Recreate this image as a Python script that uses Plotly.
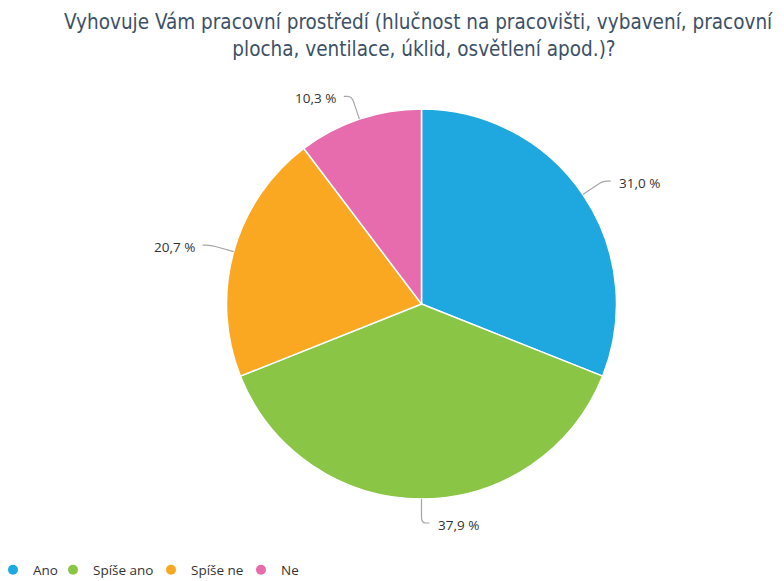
import math
import plotly.graph_objects as go

title_lines = ["Vyhovuje Vám pracovní prostředí (hlučnost na pracovišti, vybavení, pracovní",
               "plocha, ventilace, úklid, osvětlení apod.)?"]
categories = ["Ano", "Spíše ano", "Spíše ne", "Ne"]
values = [31.0, 37.9, 20.7, 10.3]
colors = ["#1fa8e0", "#8bc546", "#faa822", "#e66cad"]

W, H = 784, 581
CX, CY, R = 421.5, 304.0, 195.0

def px(x):
    return x / W

def py(y):
    return 1 - y / H

fig = go.Figure()
fig.add_trace(go.Pie(
    labels=categories, values=values, sort=False, direction="clockwise", rotation=0,
    marker=dict(colors=colors, line=dict(color="white", width=1.5)),
    textinfo="none", showlegend=False,
    domain=dict(x=[px(CX - R), px(CX + R)], y=[py(CY + R), py(CY - R)]),
    hovertemplate="%{label}: %{value:.1f} %<extra></extra>",
))

# legend entries with round markers, one small legend per entry for compact spacing
legend_x_px = [-7, 53, 151, 241]
legend_names = ["legend", "legend2", "legend3", "legend4"]
for c, col, ln in zip(categories, colors, legend_names):
    fig.add_trace(go.Scatter(x=[None], y=[None], mode="markers", name=c, legend=ln,
                             marker=dict(color=col, size=10, symbol="circle")))

# outside labels with leader lines
total = sum(values)
cum = 0.0
shapes = []
annotations = []
for v in values:
    mid = (cum + v / 2) / total * 2 * math.pi
    cum += v
    sx, sy = math.sin(mid), -math.cos(mid)
    p0 = (CX + R * sx, CY + R * sy)
    p1 = (CX + (R + 24) * sx, CY + (R + 24) * sy)
    side = 1 if sx >= 0 else -1
    p2 = (p1[0] + 8 * side, p1[1])
    pa = (p0[0] + (p1[0] - p0[0]) * 0.75, p0[1] + (p1[1] - p0[1]) * 0.75)
    pb = (p1[0] + 4 * side, p1[1])
    path = (f"M {px(p0[0])},{py(p0[1])} L {px(pa[0])},{py(pa[1])} "
            f"Q {px(p1[0])},{py(p1[1])} {px(pb[0])},{py(pb[1])} L {px(p2[0])},{py(p2[1])}")
    shapes.append(dict(type="path", xref="paper", yref="paper", path=path,
                       line=dict(color="#a6a6a6", width=1.2)))
    annotations.append(dict(
        x=px(p2[0] + 6 * side), y=py(p2[1] + 2), xref="paper", yref="paper",
        text=f"{v:.1f} %".replace(".", ","), showarrow=False,
        xanchor="left" if side > 0 else "right", yanchor="middle",
        font=dict(family="Open Sans", size=13.5, color="#333333"),
    ))

layout_legends = {}
for ln, lx in zip(legend_names, legend_x_px):
    layout_legends[ln] = dict(orientation="h", x=px(lx), xanchor="left", y=py(570), yanchor="middle",
                              font=dict(family="Open Sans", size=13.5, color="#333333"),
                              bgcolor="rgba(0,0,0,0)",
                              itemclick=False, itemdoubleclick=False)

title_text = title_lines[0] + "\u00a0\u00a0" + "<br>" + title_lines[1]

fig.update_layout(
    width=W, height=H,
    margin=dict(l=0, r=0, t=0, b=0, autoexpand=False),
    paper_bgcolor="white", plot_bgcolor="white",
    title=dict(text=title_text, x=424 / W, xanchor="center",
               y=py(29), yanchor="top",
               font=dict(family="DejaVu Sans Condensed", size=20.5, color="#3d5166")),
    xaxis=dict(visible=False), yaxis=dict(visible=False),
    shapes=shapes, annotations=annotations,
    **layout_legends,
)

fig.write_html("out.html", config={"displayModeBar": False},
               post_script="document.body.style.margin='0';")
